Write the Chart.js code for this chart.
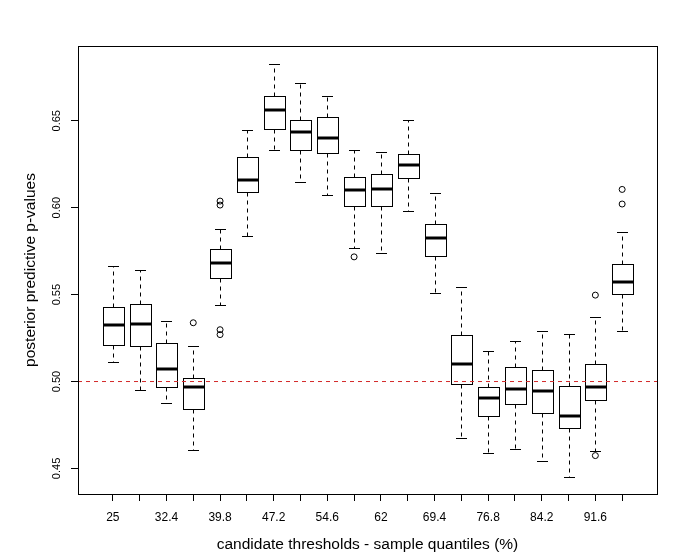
<!DOCTYPE html>
<html>
<head>
<meta charset="utf-8">
<script src="https://cdn.jsdelivr.net/npm/chart.js@4.4.1/dist/chart.umd.min.js"></script>
<style>
  html, body { margin: 0; padding: 0; background: #fff; }
</style>
</head>
<body>
<canvas id="boxChart" width="697" height="558"></canvas>
<script>
// candidate thresholds (sample quantiles, %), one box each
const thresholds = ['25', '28.7', '32.4', '36.1', '39.8', '43.5', '47.2', '50.9', '54.6', '58.3',
                    '62', '65.7', '69.4', '73.1', '76.8', '80.5', '84.2', '87.9', '91.6', '95.3'];
// only every other label fits on the axis
const tickLabels = ['25', '', '32.4', '', '39.8', '', '47.2', '', '54.6', '',
                    '62', '', '69.4', '', '76.8', '', '84.2', '', '91.6', ''];

// box statistics
const lowerWhisker = [0.5115, 0.4954, 0.4878, 0.4608, 0.5440, 0.5837, 0.6329, 0.6145, 0.6071, 0.5768,
                      0.5738, 0.5981, 0.5509, 0.4677, 0.4587, 0.4614, 0.4545, 0.4448, 0.4603, 0.5291];
const lowerQuartile = [0.5210, 0.5205, 0.4970, 0.4843, 0.5595, 0.6088, 0.6455, 0.6334, 0.6313, 0.6009,
                       0.6007, 0.6168, 0.5721, 0.4987, 0.4799, 0.4872, 0.4821, 0.4735, 0.4895, 0.5503];
const medians = [0.5325, 0.5333, 0.5073, 0.4971, 0.5684, 0.6158, 0.6564, 0.6433, 0.6403, 0.6101,
                 0.6105, 0.6248, 0.5824, 0.5101, 0.4908, 0.4958, 0.4947, 0.4803, 0.4970, 0.5572];
const upperQuartile = [0.5426, 0.5446, 0.5222, 0.5021, 0.5761, 0.6294, 0.6644, 0.6506, 0.6523, 0.6174,
                       0.6193, 0.6311, 0.5904, 0.5268, 0.4970, 0.5084, 0.5067, 0.4975, 0.5099, 0.5675];
const upperWhisker = [0.5663, 0.5640, 0.5351, 0.5202, 0.5879, 0.6449, 0.6827, 0.6716, 0.6644, 0.6332,
                      0.6323, 0.6506, 0.6082, 0.5543, 0.5176, 0.5233, 0.5288, 0.5273, 0.5369, 0.5860];

// outliers: box number (1-based) and value
const outlierBox = [4, 5, 5, 5, 5, 10, 19, 19, 20, 20];
const outlierValue = [0.5338, 0.6038, 0.6015, 0.5298, 0.5270, 0.5717, 0.5497, 0.4574, 0.6105, 0.6021];

const refLine = 0.5;
const yTicks = [0.45, 0.50, 0.55, 0.60, 0.65];

// R style limits (4% padding around the data)
const xMin = -0.3, xMax = 21.3;
const yMin = 0.4353, yMax = 0.6930;
const boxWidth = 0.8;

Chart.defaults.font.family = '"Liberation Sans", Arial, sans-serif';
Chart.defaults.color = '#000';

function crisp(v) {
    return Math.round(v) + 0.5;
}

const boxPlugin = {
    id: 'rBoxes',
    beforeDatasetsDraw(chart) {
        const ctx = chart.ctx;
        const x = chart.scales.x;
        const y = chart.scales.y;
        ctx.save();
        ctx.strokeStyle = '#000';
        thresholds.forEach((t, i) => {
            const cx = crisp(x.getPixelForValue(i + 1));
            const half = x.getPixelForValue(i + 1 + boxWidth / 2) - x.getPixelForValue(i + 1);
            const left = Math.round(cx - half) + 0.5;
            const right = Math.round(cx + half) + 0.5;
            const cap = half / 2;
            const yLo = crisp(y.getPixelForValue(lowerWhisker[i]));
            const yQ1 = crisp(y.getPixelForValue(lowerQuartile[i]));
            const yMed = y.getPixelForValue(medians[i]);
            const yQ3 = crisp(y.getPixelForValue(upperQuartile[i]));
            const yHi = crisp(y.getPixelForValue(upperWhisker[i]));

            // whiskers
            ctx.lineWidth = 1;
            ctx.setLineDash([4, 4]);
            ctx.beginPath();
            ctx.moveTo(cx, yQ3);
            ctx.lineTo(cx, yHi);
            ctx.moveTo(cx, yQ1);
            ctx.lineTo(cx, yLo);
            ctx.stroke();
            ctx.setLineDash([]);

            // staples
            ctx.beginPath();
            ctx.moveTo(Math.round(cx - cap), yHi);
            ctx.lineTo(Math.round(cx + cap), yHi);
            ctx.moveTo(Math.round(cx - cap), yLo);
            ctx.lineTo(Math.round(cx + cap), yLo);
            ctx.stroke();

            // box
            ctx.fillStyle = '#fff';
            ctx.fillRect(left, yQ3, right - left, yQ1 - yQ3);
            ctx.strokeRect(left, yQ3, right - left, yQ1 - yQ3);

            // median
            ctx.lineWidth = 3;
            ctx.beginPath();
            ctx.moveTo(left, Math.round(yMed));
            ctx.lineTo(right, Math.round(yMed));
            ctx.stroke();
        });
        ctx.restore();
    },
    afterDraw(chart) {
        const ctx = chart.ctx;
        const area = chart.chartArea;
        const y = chart.scales.y;
        ctx.save();
        // frame around the plot region
        ctx.strokeStyle = '#000';
        ctx.lineWidth = 1;
        ctx.strokeRect(crisp(area.left), crisp(area.top),
            Math.round(area.right - area.left), Math.round(area.bottom - area.top));
        // rotated y tick labels
        ctx.fillStyle = '#000';
        ctx.font = '11px "Liberation Sans", Arial, sans-serif';
        ctx.textAlign = 'center';
        ctx.textBaseline = 'middle';
        yTicks.forEach(v => {
            ctx.save();
            ctx.translate(57, y.getPixelForValue(v));
            ctx.rotate(-Math.PI / 2);
            ctx.fillText(v.toFixed(2), 0, 0);
            ctx.restore();
        });
        ctx.restore();
    }
};

const ctx = document.getElementById('boxChart').getContext('2d');
new Chart(ctx, {
    type: 'scatter',
    data: {
        datasets: [
            {
                label: 'outliers',
                data: outlierBox.map((b, i) => ({x: b, y: outlierValue[i]})),
                pointStyle: 'circle',
                pointRadius: 3,
                pointBorderWidth: 1,
                pointBorderColor: '#000',
                pointBackgroundColor: 'rgba(255,255,255,0)'
            },
            {
                type: 'line',
                label: 'reference',
                data: [{x: xMin, y: refLine}, {x: xMax, y: refLine}],
                borderColor: '#d42a2a',
                borderWidth: 1,
                borderDash: [4, 4],
                pointRadius: 0,
                fill: false
            }
        ]
    },
    options: {
        responsive: false,
        animation: false,
        devicePixelRatio: 1,
        layout: {padding: {top: 46, right: 40, left: 0, bottom: 0}},
        plugins: {
            legend: {display: false},
            tooltip: {enabled: false}
        },
        scales: {
            x: {
                type: 'linear',
                position: 'bottom',
                min: xMin,
                max: xMax,
                afterBuildTicks: scale => {
                    scale.ticks = thresholds.map((t, i) => ({value: i + 1}));
                },
                afterFit: scale => {
                    scale.height = 64;
                },
                ticks: {
                    autoSkip: false,
                    maxRotation: 0,
                    padding: 9,
                    font: {size: 12},
                    callback: (value, index) => tickLabels[index]
                },
                grid: {
                    drawOnChartArea: false,
                    drawTicks: true,
                    tickLength: 7,
                    tickColor: '#000',
                    lineWidth: 1
                },
                border: {display: false},
                title: {
                    display: true,
                    text: 'candidate thresholds - sample quantiles (%)',
                    font: {size: 15.5},
                    padding: {top: 0, bottom: 4}
                }
            },
            y: {
                type: 'linear',
                position: 'left',
                min: yMin,
                max: yMax,
                afterBuildTicks: scale => {
                    scale.ticks = yTicks.map(v => ({value: v}));
                },
                afterFit: scale => {
                    scale.width = 78;
                },
                ticks: {display: false},
                grid: {
                    drawOnChartArea: false,
                    drawTicks: true,
                    tickLength: 7,
                    tickColor: '#000',
                    lineWidth: 1
                },
                border: {display: false},
                title: {
                    display: true,
                    text: 'posterior predictive p-values',
                    font: {size: 15.5},
                    padding: {top: 21, bottom: 0}
                }
            }
        }
    },
    plugins: [boxPlugin]
});
</script>
</body>
</html>
